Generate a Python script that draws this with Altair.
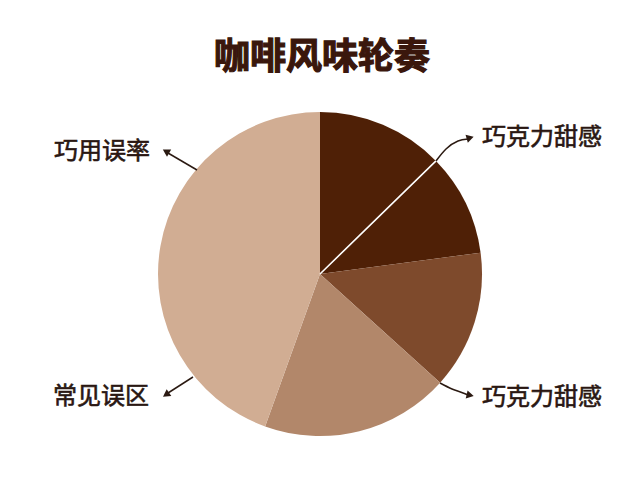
import altair as alt
import pandas as pd
import numpy as np

# ---- data ----
slice_ids = ["s1", "s2", "s3", "s4", "s5"]
slice_values = [12.7, 10.2, 13.8, 18.8, 44.5]
slice_colors = ["#4f2006", "#4f2006", "#7e4a2c", "#b2876a", "#d1ad93"]

label_texts = ["巧克力甜感", "巧克力甜感", "常见误区", "巧用误率"]
label_x = [542, 542, 101, 102]
label_y = [138, 398, 397, 152]

# arrow paths (page pixel coordinates)
arrow_id = [0, 0, 0, 0, 1, 1, 1, 1, 2, 2, 3, 3]
arrow_ord = [0, 1, 2, 3, 0, 1, 2, 3, 0, 1, 0, 1]
arrow_px = [436, 446, 458, 468, 440, 452, 463, 468, 193, 168, 197, 168]
arrow_py = [161, 149, 141, 139, 383, 389, 393, 395, 377, 393, 170, 153]
head_x = [469, 469, 167, 167]
head_y = [138, 395, 394, 152]
head_angle = [74, 103, 236, 300]

title_text = "咖啡风味轮奏"

W, H = 624, 464
CX, CY, R = 312, 266, 162
FONT = "Noto Sans CJK SC"

pie_df = pd.DataFrame({"id": slice_ids, "value": slice_values, "idx": list(range(5))})
sep_df = pd.DataFrame({"b": [float(np.cumsum(slice_values)[0])]})
lab_df = pd.DataFrame({"t": label_texts, "x": label_x, "y": label_y})
arr_df = pd.DataFrame({"a": arrow_id, "o": arrow_ord, "x": arrow_px, "y": arrow_py})
head_df = pd.DataFrame({"x": head_x, "y": head_y, "ang": head_angle})
title_df = pd.DataFrame({"t": [title_text], "x": [322], "y": [58]})

xs = alt.Scale(domain=[8, 8 + W])
ys = alt.Scale(domain=[8, 8 + H], reverse=True)
theta_scale = alt.Scale(domain=[0, 100], range=[0, 2 * np.pi])

pie = alt.Chart(pie_df).mark_arc(outerRadius=R).encode(
    theta=alt.Theta("value:Q", stack=True, scale=theta_scale),
    color=alt.Color("id:N", scale=alt.Scale(domain=slice_ids, range=slice_colors), legend=None),
    order=alt.Order("idx:Q"),
    x=alt.value(CX),
    y=alt.value(CY),
)

sep = alt.Chart(sep_df).mark_arc(outerRadius=R, stroke="white", strokeWidth=1.6, fillOpacity=0).encode(
    theta=alt.Theta("b:Q", stack=None, scale=theta_scale),
    theta2=alt.Theta2("b:Q"),
    x=alt.value(CX),
    y=alt.value(CY),
)

lines = alt.Chart(arr_df).mark_line(color="#2b1a12", strokeWidth=1.5, interpolate="monotone").encode(
    x=alt.X("x:Q", scale=xs, axis=None),
    y=alt.Y("y:Q", scale=ys, axis=None),
    detail="a:N",
    order="o:Q",
)

heads = alt.Chart(head_df).mark_point(shape="triangle", filled=True, color="#2b1a12", size=70, opacity=1).encode(
    x=alt.X("x:Q", scale=xs, axis=None),
    y=alt.Y("y:Q", scale=ys, axis=None),
    angle=alt.Angle("ang:Q", scale=None),
)

labels = alt.Chart(lab_df).mark_text(font=FONT, fontSize=24, color="#2a1712", stroke="#2a1712",
                                     strokeWidth=0.6, align="center", baseline="middle").encode(
    x=alt.X("x:Q", scale=xs, axis=None),
    y=alt.Y("y:Q", scale=ys, axis=None),
    text="t:N",
)

title = alt.Chart(title_df).mark_text(font=FONT, fontSize=36, fontWeight="bold", color="#3a170c", stroke="#3a170c",
                                      strokeWidth=1.2, align="center", baseline="middle").encode(
    x=alt.X("x:Q", scale=xs, axis=None),
    y=alt.Y("y:Q", scale=ys, axis=None),
    text="t:N",
)

chart = alt.layer(pie, sep, lines, heads, labels, title).properties(
    width=W, height=H, padding=0, autosize=alt.AutoSizeParams(type="none"), background="white"
).configure_view(stroke=None)

chart.save("out.html", embed_options={"renderer": "svg", "actions": False})
